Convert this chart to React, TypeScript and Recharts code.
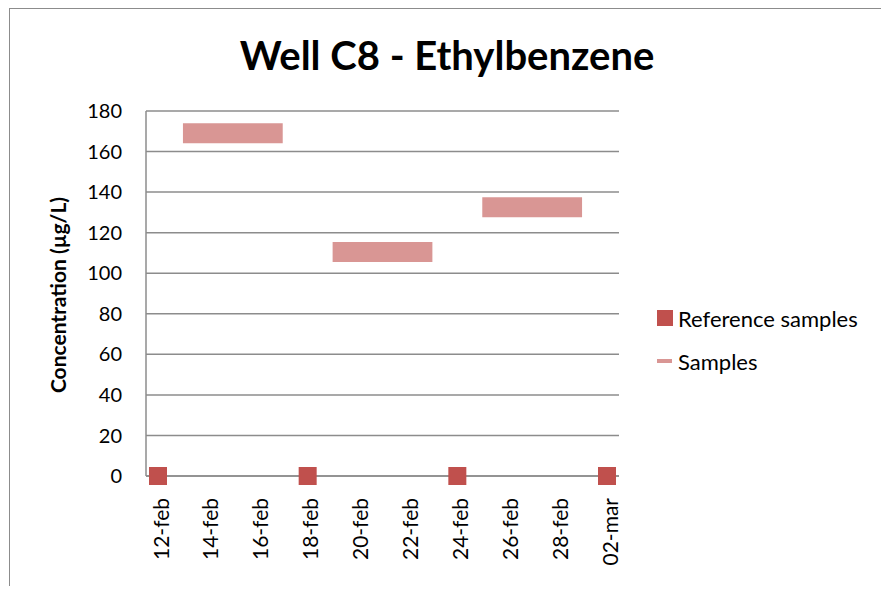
import { ComposedChart, Line, XAxis, YAxis, CartesianGrid } from 'recharts';

const days = [
  '12-feb', '13-feb', '14-feb', '15-feb', '16-feb', '17-feb', '18-feb', '19-feb', '20-feb', '21-feb',
  '22-feb', '23-feb', '24-feb', '25-feb', '26-feb', '27-feb', '28-feb', '01-mar', '02-mar',
];
const tickDays = ['12-feb', '14-feb', '16-feb', '18-feb', '20-feb', '22-feb', '24-feb', '26-feb', '28-feb', '02-mar'];
const yTicks = [0, 20, 40, 60, 80, 100, 120, 140, 160, 180];

// reference samples (all at 0)
const refDays = ['12-feb', '18-feb', '24-feb', '02-mar'];
const refValues = [0, 0, 0, 0];

// sampling periods, each drawn as a flat thick line
const sampleStart = ['13-feb', '19-feb', '25-feb'];
const sampleEnd = ['17-feb', '23-feb', '01-mar'];
const sampleValues = [169, 110.5, 132.5];

const REF_COLOR = '#C0504D';
const SAMPLE_COLOR = '#D99694';
const FONT = 'Lato, "Open Sans", sans-serif';

const data = days.map((d) => {
  const row: Record<string, string | number | null> = { day: d, ref: null };
  const ri = refDays.indexOf(d);
  if (ri >= 0) row.ref = refValues[ri];
  sampleValues.forEach((v, i) => {
    row['s' + i] = d === sampleStart[i] || d === sampleEnd[i] ? v : null;
  });
  return row;
});

const RefDot = (props: any) => {
  const { cx, cy, index } = props;
  if (cx == null || cy == null || props.value == null) return <g key={'r' + index} />;
  return <rect key={'r' + index} x={cx - 9} y={cy - 9} width={18} height={18} fill={REF_COLOR} />;
};

const XTick = (props: any) => {
  const { x, y, payload } = props;
  return (
    <text
      x={x + 2}
      y={y}
      transform={`rotate(-90, ${x + 2}, ${y})`}
      textAnchor="end"
      dominantBaseline="central"
      fontSize={21}
      fontFamily={FONT}
      fill="#000"
    >
      {payload.value}
    </text>
  );
};

export default function App() {
  return (
    <div
      style={{
        position: 'relative',
        width: 871,
        height: 577,
        marginLeft: 1,
        borderLeft: '1px solid #8c8c8c',
        borderTop: '1px solid #8c8c8c',
        overflow: 'hidden',
        fontFamily: FONT,
        background: '#fff',
      }}
    >
      <div
        style={{
          position: 'absolute',
          left: 437,
          top: 22,
          transform: 'translateX(-50%)',
          whiteSpace: 'nowrap',
          fontSize: 40,
          fontWeight: 700,
          color: '#000',
        }}
      >
        Well C8 - Ethylbenzene
      </div>
      <div
        style={{
          position: 'absolute',
          left: 47,
          top: 286,
          transform: 'translate(-50%, -50%) rotate(-90deg)',
          fontSize: 21,
          fontWeight: 700,
          whiteSpace: 'nowrap',
          color: '#000',
        }}
      >
        Concentration (µg/L)
      </div>
      <ComposedChart
        width={871}
        height={577}
        data={data}
        margin={{ top: 102, right: 262, bottom: 10, left: 0 }}
      >
        <CartesianGrid vertical={false} stroke="#8c8c8c" strokeWidth={1.5} />
        <XAxis
          dataKey="day"
          ticks={tickDays}
          interval={0}
          padding={{ left: 12, right: 12 }}
          height={100}
          tick={<XTick />}
          tickLine={false}
          tickSize={0}
          tickMargin={22}
          axisLine={{ stroke: '#8c8c8c', strokeWidth: 1.5 }}
        />
        <YAxis
          domain={[0, 180]}
          ticks={yTicks}
          width={136}
          tickLine={false}
          tickSize={0}
          tickMargin={24}
          axisLine={{ stroke: '#8c8c8c', strokeWidth: 1.5 }}
          tick={{ fontSize: 20, fontFamily: FONT, fill: '#000' }}
        />
        {sampleValues.map((_, i) => (
          <Line
            key={'s' + i}
            dataKey={'s' + i}
            name="Samples"
            stroke={SAMPLE_COLOR}
            strokeWidth={20}
            strokeLinecap="butt"
            connectNulls
            dot={false}
            activeDot={false}
            isAnimationActive={false}
          />
        ))}
        <Line
          dataKey="ref"
          name="Reference samples"
          stroke="none"
          dot={<RefDot />}
          activeDot={false}
          isAnimationActive={false}
        />
      </ComposedChart>
      <div style={{ position: 'absolute', left: 647, top: 295, fontSize: 22, color: '#000' }}>
        <div style={{ display: 'flex', alignItems: 'center', height: 28 }}>
          <span style={{ width: 16, height: 16, background: REF_COLOR, marginRight: 5, display: 'inline-block' }} />
          Reference samples
        </div>
        <div style={{ display: 'flex', alignItems: 'center', height: 28, marginTop: 15 }}>
          <span style={{ width: 15, height: 4, background: SAMPLE_COLOR, marginRight: 6, display: 'inline-block' }} />
          Samples
        </div>
      </div>
    </div>
  );
}
